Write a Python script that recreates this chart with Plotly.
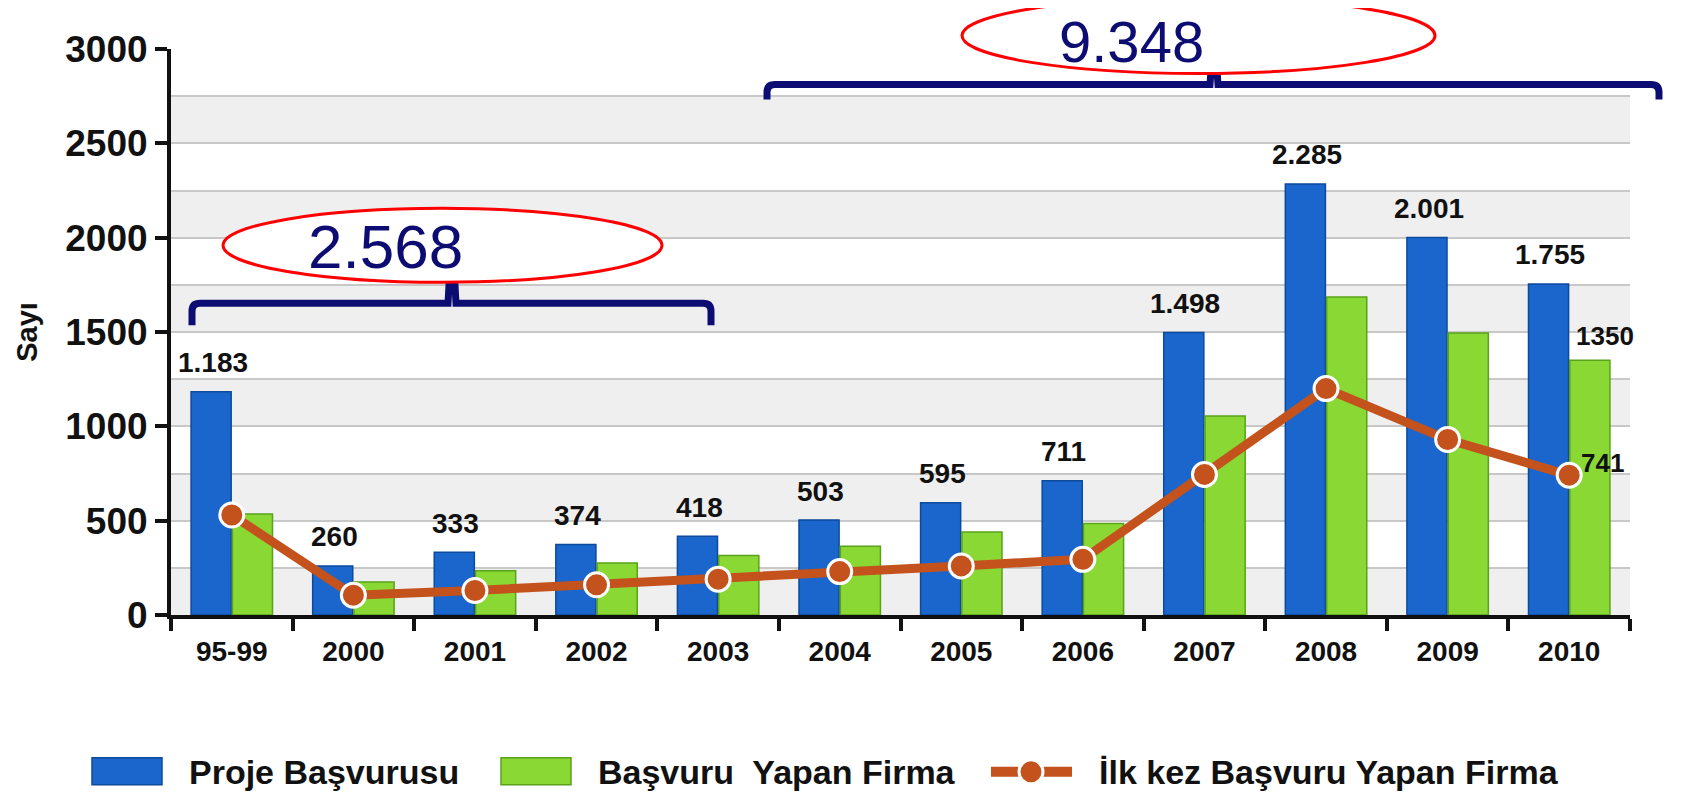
import plotly.graph_objects as go

categories = ["95-99", "2000", "2001", "2002", "2003", "2004", "2005", "2006", "2007", "2008", "2009", "2010"]
proje = [1183, 260, 333, 374, 418, 503, 595, 711, 1498, 2285, 2001, 1755]
proje_labels = ["1.183", "260", "333", "374", "418", "503", "595", "711", "1.498", "2.285", "2.001", "1.755"]
firma = [535, 175, 235, 275, 315, 365, 440, 485, 1055, 1685, 1495, 1350]
firma_label = "1350"
ilk = [530, 105, 130, 160, 190, 230, 260, 295, 745, 1200, 930, 741]
ilk_label = "741"
y_ticks = [0, 500, 1000, 1500, 2000, 2500, 3000]
group_totals = ["2.568", "9.348"]
series_names = ["Proje Başvurusu", "Başvuru\u00a0 Yapan Firma", "İlk kez Başvuru Yapan Firma"]

BLUE = "#1a66cc"
GREEN = "#8ad834"
ORANGE = "#c4521c"
NAVY = "#0c0c72"
FONT = "Liberation Sans, Arial, sans-serif"

W, H = 1689, 794
OFF = 8  # page body margin
L, R, T, B = 171, 1630, 48.5, 615  # plot area in reference pixels


def px(x):
    return (x - L) / (R - L)


def py(y):
    return (B - y) / (B - T)


def bold(size, color="#111"):
    return dict(family=FONT, size=size, color=color, weight="bold")


fig = go.Figure()
fig.add_bar(x=categories, y=proje, name=series_names[0],
            marker=dict(color=BLUE, line=dict(color="#0d4a9c", width=1.5)))
fig.add_bar(x=categories, y=firma, name=series_names[1],
            marker=dict(color=GREEN, line=dict(color="#5aa21a", width=1.5)))
fig.add_scatter(x=categories, y=ilk, name=series_names[2], mode="lines+markers",
                line=dict(color=ORANGE, width=9),
                marker=dict(size=24, color=ORANGE, line=dict(color="white", width=3)),
                cliponaxis=False)

shapes = []
for k in range(0, 3000, 500):
    shapes.append(dict(type="rect", xref="paper", yref="y", x0=0, x1=1, y0=k, y1=k + 250,
                       fillcolor="#efefef", line=dict(width=0), layer="below"))


def brace(x0, x1, xc, yh, yend, ytop):
    r = 8
    path = (f"M {px(x0)},{py(yend)} L {px(x0)},{py(yh + r)} "
            f"Q {px(x0)},{py(yh)} {px(x0 + r)},{py(yh)} "
            f"L {px(xc - 4)},{py(yh)} L {px(xc - 3)},{py(ytop)} L {px(xc + 3)},{py(ytop)} L {px(xc + 4)},{py(yh)} "
            f"L {px(x1 - r)},{py(yh)} Q {px(x1)},{py(yh)} {px(x1)},{py(yh + r)} L {px(x1)},{py(yend)}")
    return dict(type="path", xref="paper", yref="paper", path=path,
                line=dict(color=NAVY, width=7), layer="above")


shapes.append(brace(192, 711, 452, 303, 325, 285))
shapes.append(brace(767, 1659, 1214, 84, 99, 70))

shapes.append(dict(type="circle", xref="paper", yref="paper", x0=px(223), x1=px(662),
                   y0=py(282), y1=py(208), fillcolor="white", line=dict(color="#ff0000", width=3)))
shapes.append(dict(type="circle", xref="paper", yref="paper", x0=px(962), x1=px(1435),
                   y0=py(73), y1=py(-3), fillcolor="white", line=dict(color="#ff0000", width=3)))

shapes.append(dict(type="rect", xref="paper", yref="paper", x0=px(92), x1=px(162), y0=py(785), y1=py(758),
                   fillcolor=BLUE, line=dict(color="#0d4a9c", width=1.5)))
shapes.append(dict(type="rect", xref="paper", yref="paper", x0=px(501), x1=px(571), y0=py(785), y1=py(758),
                   fillcolor=GREEN, line=dict(color="#5aa21a", width=1.5)))
shapes.append(dict(type="line", xref="paper", yref="paper", x0=px(991), x1=px(1072), y0=py(772), y1=py(772),
                   line=dict(color=ORANGE, width=10)))
shapes.append(dict(type="circle", xref="paper", yref="paper", x0=px(1019), x1=px(1043), y0=py(784), y1=py(760),
                   fillcolor=ORANGE, line=dict(color="white", width=3)))

annotations = [
    dict(text=group_totals[0], xref="paper", yref="paper", x=px(385), y=py(246), showarrow=False,
         xanchor="center", yanchor="middle", font=dict(family=FONT, size=62, color=NAVY)),
    dict(text=group_totals[1], xref="paper", yref="paper", x=px(1131), y=py(41), showarrow=False,
         xanchor="center", yanchor="middle", font=dict(family=FONT, size=58, color=NAVY)),
    dict(text=ilk_label, x=len(categories) - 1, y=ilk[-1], xref="x", yref="y", showarrow=False,
         xanchor="left", yanchor="middle", xshift=10, yshift=12, font=bold(26)),
    dict(text=firma_label, x=len(categories) - 1, y=firma[-1], xref="x", yref="y", showarrow=False,
         xanchor="center", yanchor="middle", xshift=36, yshift=24, font=bold(26)),
    dict(text=series_names[0], xref="paper", yref="paper", x=px(187), y=py(772), showarrow=False,
         xanchor="left", yanchor="middle", font=bold(34)),
    dict(text=series_names[1], xref="paper", yref="paper", x=px(596), y=py(772), showarrow=False,
         xanchor="left", yanchor="middle", font=bold(34)),
    dict(text=series_names[2], xref="paper", yref="paper", x=px(1097), y=py(772), showarrow=False,
         xanchor="left", yanchor="middle", font=bold(34)),
]
for i, lab in enumerate(proje_labels):
    annotations.append(dict(text=lab, x=i, y=proje[i], xref="x", yref="y", showarrow=False,
                            xanchor="center", yanchor="middle", xshift=-19, yshift=29,
                            font=bold(28)))

fig.update_layout(
    width=W, height=H, autosize=False,
    margin=dict(l=L - OFF, r=W - (R - OFF), t=T - OFF, b=H - (B - OFF), pad=0),
    paper_bgcolor="white", plot_bgcolor="white",
    barmode="group", bargap=0.32, bargroupgap=0.03,
    showlegend=False,
    font=dict(family=FONT, color="#111"),
    shapes=shapes, annotations=annotations,
    xaxis=dict(type="category", range=[-0.5, len(categories) - 0.5], tickson="boundaries",
               ticks="outside", ticklen=12, tickwidth=4, ticklabelstandoff=8,
               tickcolor="#111", showline=True, linecolor="#111", linewidth=4, showgrid=False,
               tickangle=0, tickfont=bold(28)),
    yaxis=dict(range=[0, 3000], tickvals=y_ticks, ticks="outside", ticklen=12, tickwidth=4,
               tickcolor="#111", showline=True, linecolor="#111", linewidth=4,
               showgrid=True, gridcolor="#c8c8c8", gridwidth=2, zeroline=False,
               minor=dict(dtick=250, showgrid=True, gridcolor="#c8c8c8", gridwidth=2),
               tickfont=bold(37),
               title=dict(text="Sayı", font=bold(29), standoff=20)),
)

fig.write_html("out.html")
